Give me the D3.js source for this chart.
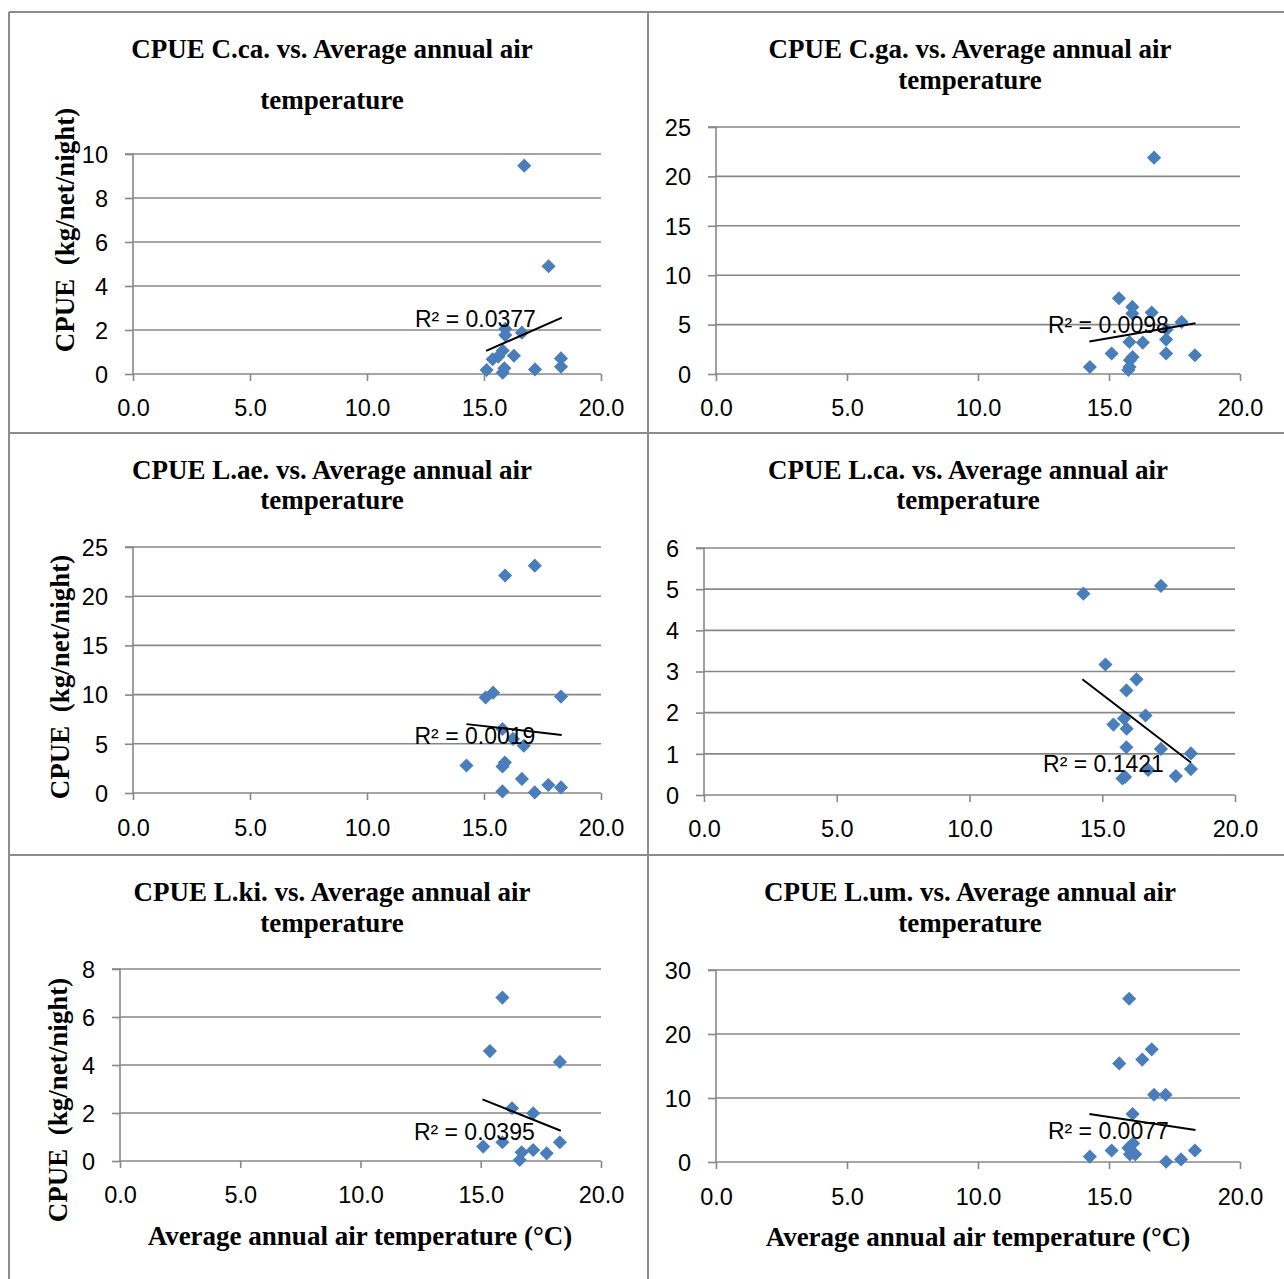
<!DOCTYPE html>
<html>
<head>
<meta charset="utf-8">
<script src="https://cdn.jsdelivr.net/npm/d3@7"></script>
<style>
  html, body { margin: 0; padding: 0; background: #fff; }
  svg { display: block; }
</style>
</head>
<body>
<svg id="chart" width="1284" height="1279"></svg>
<script>
// ---------------- DATA ----------------
const xTickValues = [0, 5, 10, 15, 20];

const tempCca = [16.72, 17.76, 15.91, 15.91, 16.62, 15.80, 15.37, 16.28, 15.61, 15.11, 15.87, 15.80, 17.18, 18.29, 18.29];
const cpueCca = [9.47, 4.90, 2.05, 1.77, 1.88, 1.06, 0.67, 0.83, 0.79, 0.18, 0.26, 0.06, 0.21, 0.71, 0.33];
const trendCca = [[15.09, 1.05], [18.33, 2.56]];

const tempCga = [16.72, 15.38, 15.89, 15.89, 16.63, 17.77, 17.20, 17.18, 15.78, 16.29, 17.18, 18.28, 15.10, 15.90, 15.80, 15.78, 14.27, 15.74];
const cpueCga = [21.9, 7.67, 6.79, 6.12, 6.22, 5.27, 4.50, 3.48, 3.24, 3.18, 2.07, 1.90, 2.07, 1.72, 1.39, 0.71, 0.71, 0.40];
const trendCga = [[14.25, 3.28], [18.30, 5.14]];

const tempLae = [17.17, 15.90, 15.07, 15.39, 18.29, 15.79, 16.24, 16.70, 14.25, 15.79, 15.89, 16.62, 15.79, 17.17, 17.75, 18.29];
const cpueLae = [23.1, 22.1, 9.7, 10.2, 9.8, 6.5, 5.5, 4.8, 2.79, 2.70, 3.10, 1.43, 0.16, 0.06, 0.81, 0.57];
const trendLae = [[14.25, 7.0], [18.32, 5.9]];

const tempLca = [14.29, 17.21, 15.12, 16.29, 15.91, 16.63, 15.42, 15.82, 15.92, 15.91, 17.21, 18.34, 18.34, 17.77, 16.73, 15.86, 15.76];
const cpueLca = [4.89, 5.08, 3.17, 2.81, 2.54, 1.93, 1.71, 1.86, 1.61, 1.16, 1.12, 1.01, 0.63, 0.46, 0.61, 0.44, 0.40];
const trendLca = [[14.25, 2.81], [18.34, 0.79]];

const tempLki = [15.90, 15.38, 18.29, 16.30, 17.18, 15.10, 15.90, 18.29, 16.70, 17.18, 17.74, 16.62];
const cpueLki = [6.81, 4.58, 4.13, 2.20, 1.99, 0.60, 0.78, 0.78, 0.36, 0.46, 0.32, 0.04];
const trendLki = [[15.07, 2.57], [18.33, 1.26]];

const tempLum = [15.77, 15.39, 16.27, 16.63, 16.72, 17.16, 15.90, 15.92, 15.10, 15.74, 15.80, 16.00, 14.27, 17.18, 17.75, 18.28];
const cpueLum = [25.5, 15.4, 16.0, 17.6, 10.5, 10.5, 7.5, 2.9, 1.8, 2.2, 1.2, 1.2, 0.84, 0.04, 0.40, 1.8];
const trendLum = [[14.25, 7.5], [18.30, 5.0]];

const titles = [
  ["CPUE C.ca. vs. Average annual air", "temperature"],
  ["CPUE C.ga. vs. Average annual air", "temperature"],
  ["CPUE L.ae. vs. Average annual air", "temperature"],
  ["CPUE L.ca. vs. Average annual air", "temperature"],
  ["CPUE L.ki. vs. Average annual air", "temperature"],
  ["CPUE L.um. vs. Average annual air", "temperature"]
];
const r2Labels = ["R² = 0.0377", "R² = 0.0098", "R² = 0.0019", "R² = 0.1421", "R² = 0.0395", "R² = 0.0077"];
const yAxisTitle = "CPUE  (kg/net/night)";
const xAxisTitle = "Average annual air temperature (°C)";

// ---------------- LAYOUT ----------------
const panels = [
  { temp: tempCca, cpue: cpueCca, trend: trendCca, yMax: 10, yStep: 2,
    xr: [133, 601], yr: [374, 154], tx: 332, ty: [49, 100], xlY: 408, r2: [12.05, 2.5],
    yTitle: [65, 230] },
  { temp: tempCga, cpue: cpueCga, trend: trendCga, yMax: 25, yStep: 5,
    xr: [716, 1240], yr: [374, 127], tx: 970, ty: [49, 80], xlY: 408, r2: [12.67, 4.93] },
  { temp: tempLae, cpue: cpueLae, trend: trendLae, yMax: 25, yStep: 5,
    xr: [133, 601], yr: [793, 547], tx: 332, ty: [470, 500], xlY: 828, r2: [12.03, 5.77],
    yTitle: [60, 677] },
  { temp: tempLca, cpue: cpueLca, trend: trendLca, yMax: 6, yStep: 1,
    xr: [704, 1235], yr: [795, 548], tx: 968, ty: [470, 500], xlY: 829, r2: [12.77, 0.75] },
  { temp: tempLki, cpue: cpueLki, trend: trendLki, yMax: 8, yStep: 2,
    xr: [120, 601], yr: [1161, 969], tx: 332, ty: [892, 923], xlY: 1195, r2: [12.22, 1.21],
    yTitle: [58, 1100], xTitle: [360, 1236] },
  { temp: tempLum, cpue: cpueLum, trend: trendLum, yMax: 30, yStep: 10,
    xr: [716, 1240], yr: [1162, 970], tx: 970, ty: [892, 923], xlY: 1197, r2: [12.67, 4.88],
    xTitle: [978, 1237] }
];

const GRAY = "#878787";
const BLUE = "#4a7ebb";
const tickFont = "'Liberation Sans', Arial, sans-serif";
const titleFont = "'Liberation Serif', 'Times New Roman', serif";

const svg = d3.select("#chart");

// outer table borders
const borderLines = [
  [9, 12, 9, 1279], [648, 12, 648, 1279],
  [9, 12, 1284, 12], [9, 433, 1284, 433], [9, 855, 1284, 855]
];
svg.append("g").selectAll("line").data(borderLines).join("line")
  .attr("x1", d => d[0]).attr("y1", d => d[1]).attr("x2", d => d[2]).attr("y2", d => d[3])
  .attr("stroke", "#8c8c8c").attr("stroke-width", 2);

panels.forEach((p, i) => {
  const g = svg.append("g");
  const x = d3.scaleLinear().domain([0, 20]).range(p.xr);
  const y = d3.scaleLinear().domain([0, p.yMax]).range(p.yr);
  const yTicks = d3.range(0, p.yMax + p.yStep / 2, p.yStep);

  // gridlines
  g.append("g").selectAll("line").data(yTicks.filter(v => v > 0)).join("line")
    .attr("x1", p.xr[0]).attr("x2", p.xr[1])
    .attr("y1", d => y(d)).attr("y2", d => y(d))
    .attr("stroke", GRAY).attr("stroke-width", 1.6);

  // y axis
  const ya = g.append("g").attr("transform", `translate(${p.xr[0]},0)`)
    .call(d3.axisLeft(y).tickValues(yTicks).tickFormat(d3.format("d")).tickSize(8).tickPadding(17));
  // x axis
  const xa = g.append("g").attr("transform", `translate(0,${p.yr[0]})`)
    .call(d3.axisBottom(x).tickValues(xTickValues).tickFormat(d3.format(".1f")).tickSize(7).tickPadding(0));
  [ya, xa].forEach(a => {
    a.select(".domain").attr("stroke", GRAY).attr("stroke-width", 1.6);
    a.selectAll(".tick line").attr("stroke", GRAY).attr("stroke-width", 1.6);
    a.selectAll("text").attr("fill", "#000").style("font-family", tickFont).style("font-size", "23.5px");
  });
  ya.select(".domain").attr("d", `M-8,${p.yr[1]}H0V${p.yr[0]}`);
  xa.select(".domain").attr("d", `M${p.xr[0]},0H${p.xr[1]}`);
  xa.selectAll(".tick text").attr("y", null).attr("dy", null)
    .attr("transform", `translate(0,${p.xlY - p.yr[0]})`).attr("dominant-baseline", "central");
  ya.selectAll(".tick text").attr("dy", "0.35em");

  // markers
  const sym = d3.symbol(d3.symbolSquare, 100);
  g.append("g").selectAll("path").data(p.temp.map((t, k) => [t, p.cpue[k]])).join("path")
    .attr("d", sym)
    .attr("transform", d => `translate(${x(d[0])},${y(d[1])}) rotate(45)`)
    .attr("fill", BLUE);

  // trendline
  g.append("line")
    .attr("x1", x(p.trend[0][0])).attr("y1", y(p.trend[0][1]))
    .attr("x2", x(p.trend[1][0])).attr("y2", y(p.trend[1][1]))
    .attr("stroke", "#000").attr("stroke-width", 2);

  // R² label
  g.append("text").attr("x", x(p.r2[0])).attr("y", y(p.r2[1])).attr("dy", "0.35em")
    .style("font-family", tickFont).style("font-size", "23px").attr("fill", "#000")
    .text(r2Labels[i]);

  // title
  g.append("g").selectAll("text").data(titles[i]).join("text")
    .attr("x", p.tx).attr("y", (d, k) => p.ty[k]).attr("dy", "0.35em")
    .attr("text-anchor", "middle").style("font-family", titleFont)
    .style("font-weight", "bold").style("font-size", "27px").text(d => d);

  if (p.yTitle) {
    g.append("text").attr("transform", `translate(${p.yTitle[0]},${p.yTitle[1]}) rotate(-90)`)
      .attr("dy", "0.35em").attr("text-anchor", "middle")
      .style("font-family", titleFont).style("font-weight", "bold").style("font-size", "27px")
      .style("white-space", "pre").text(yAxisTitle);
  }
  if (p.xTitle) {
    g.append("text").attr("x", p.xTitle[0]).attr("y", p.xTitle[1]).attr("dy", "0.35em")
      .attr("text-anchor", "middle")
      .style("font-family", titleFont).style("font-weight", "bold").style("font-size", "27px")
      .text(xAxisTitle);
  }
});
</script>
</body>
</html>
